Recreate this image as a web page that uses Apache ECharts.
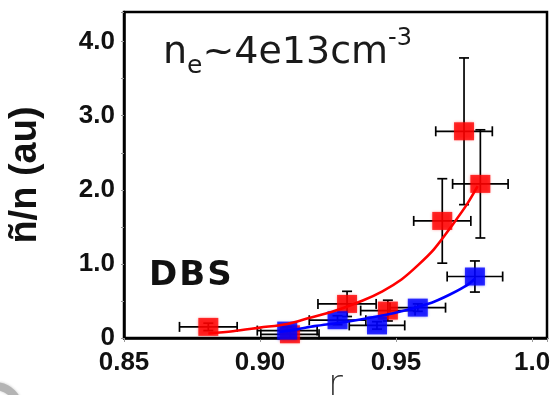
<!DOCTYPE html>
<html>
<head>
<meta charset="utf-8">
<script src="https://cdn.jsdelivr.net/npm/echarts@6/dist/echarts.min.js"></script>
<style>
  html, body { margin: 0; padding: 0; background: #fff; }
  #chart { width: 554px; height: 395px; }
</style>
</head>
<body>
<div id="chart"></div>
<script>
// Normalised density fluctuation vs minor radius (DBS measurements)
const xTicks = [0.85, 0.90, 0.95, 1.0];
const yTicks = [0, 1, 2, 3, 4];

// red data set
const redR    = [0.881, 0.911, 0.932, 0.947, 0.967, 0.975, 0.981];
const redN    = [0.15, 0.05, 0.46, 0.37, 1.58, 2.79, 2.08];
const redRErr = [0.0106, 0.0107, 0.0107, 0.0100, 0.0105, 0.0104, 0.0102];
const redNErr = [0.05, 0.05, 0.17, 0.14, 0.57, 0.99, 0.73];

// blue data set
const blueR    = [0.910, 0.9285, 0.943, 0.958, 0.979];
const blueN    = [0.10, 0.24, 0.17, 0.41, 0.83];
const blueRErr = [0.0110, 0.0104, 0.0102, 0.0102, 0.0102];
const blueNErr = [0.05, 0.06, 0.05, 0.05, 0.21];

// fitted trend curves
const redFitR  = [0.881, 0.890, 0.900, 0.910, 0.918, 0.927, 0.938, 0.945, 0.952, 0.958, 0.964, 0.971, 0.976, 0.980];
const redFitN  = [0.06, 0.09, 0.14, 0.19, 0.27, 0.36, 0.51, 0.63, 0.79, 0.98, 1.20, 1.54, 1.80, 2.05];
const blueFitR = [0.907, 0.914, 0.920, 0.930, 0.940, 0.946, 0.952, 0.958, 0.964, 0.970, 0.976, 0.979];
const blueFitN = [0.08, 0.12, 0.16, 0.21, 0.27, 0.31, 0.36, 0.42, 0.49, 0.59, 0.71, 0.80];

const zip = (a, b) => a.map((v, i) => [v, b[i]]);
const zip4 = (a, b, c, d) => a.map((v, i) => [v, b[i], c[i], d[i]]);

function errorBars(params, api) {
  const x = api.value(0), y = api.value(1), xe = api.value(2), ye = api.value(3);
  const l = api.coord([x - xe, y]);
  const r = api.coord([x + xe, y]);
  const t = api.coord([x, y + ye]);
  const b = api.coord([x, y - ye]);
  const cap = 5;
  const st = { stroke: '#000', lineWidth: 1.7 };
  const seg = (x1, y1, x2, y2) => ({ type: 'line', shape: { x1, y1, x2, y2 }, style: st });
  return {
    type: 'group',
    children: [
      seg(l[0], l[1], r[0], r[1]),
      seg(l[0], l[1] - cap, l[0], l[1] + cap),
      seg(r[0], r[1] - cap, r[0], r[1] + cap),
      seg(t[0], t[1], b[0], b[1]),
      seg(t[0] - cap, t[1], t[0] + cap, t[1]),
      seg(b[0] - cap, b[1], b[0] + cap, b[1])
    ]
  };
}

const onTick = (v, list) => list.some(t => Math.abs(t - v) < 1e-6);

const chart = echarts.init(document.getElementById('chart'), null, { renderer: 'canvas' });
chart.setOption({
  animation: false,
  backgroundColor: '#fff',
  grid: {
    left: 124, right: 7, top: 12, bottom: 57,
    outerBoundsMode: 'none', containLabel: false,
    show: true, borderColor: '#000', borderWidth: 2.5, backgroundColor: 'transparent'
  },
  title: {
    left: 163, top: 27, padding: 0,
    text: '{m|n}{sub|e}{m|~4e13cm}{sup|-3}',
    textStyle: {
      rich: {
        m:   { fontFamily: 'DejaVu Sans', fontWeight: 'normal', fontSize: 38, lineHeight: 52, color: '#1a1a1a', verticalAlign: 'middle' },
        sub: { fontFamily: 'DejaVu Sans', fontWeight: 'normal', fontSize: 25, lineHeight: 16, color: '#1a1a1a', verticalAlign: 'bottom' },
        sup: { fontFamily: 'DejaVu Sans', fontWeight: 'normal', fontSize: 24, lineHeight: 22, color: '#1a1a1a', verticalAlign: 'top' }
      }
    }
  },
  graphic: [
    {
      type: 'text', left: 149, top: 259,
      style: {
        text: '{a|D}{a|B}{b|S}',
        rich: {
          a: { fontFamily: 'DejaVu Sans', fontWeight: 'bold', fontSize: 34, fill: '#111', padding: [0, 2, 0, 0] },
          b: { fontFamily: 'DejaVu Sans', fontWeight: 'bold', fontSize: 34, fill: '#111' }
        }
      }
    },
    {
      type: 'arc', shape: { cx: -5, cy: 410, r: 24, startAngle: 1.55 * Math.PI, endAngle: 1.95 * Math.PI },
      style: { stroke: '#b4b4b4', lineWidth: 8, fill: null, shadowBlur: 3, shadowColor: '#c8c8c8' }
    }
  ],
  xAxis: {
    type: 'value', min: 0.85, max: 1.0055, interval: 0.05,
    name: 'r', nameLocation: 'middle', nameGap: 30, nameMoveOverlap: false,
    nameTextStyle: { fontFamily: 'DejaVu Sans', fontWeight: 200, fontSize: 36, color: '#333' },
    axisLine: { show: true, lineStyle: { color: '#000', width: 2.5 } },
    axisTick: { show: true, inside: false, length: 4, lineStyle: { color: '#999', width: 1 } },
    splitLine: { show: false },
    axisLabel: {
      margin: 12, fontFamily: 'Liberation Sans', fontWeight: 'bold', fontSize: 26, color: '#111',
      showMaxLabel: true,
      formatter: v => onTick(v, xTicks) ? (Math.abs(v - 1) < 1e-6 ? '1.0' : v.toFixed(2)) : ''
    }
  },
  yAxis: {
    type: 'value', min: 0, max: 4.4, interval: 1,
    name: 'ñ/n (au)', nameLocation: 'middle', nameGap: 79, nameRotate: 90, nameMoveOverlap: false,
    nameTextStyle: { fontFamily: 'Liberation Sans', fontWeight: 'bold', fontSize: 38, color: '#111' },
    axisLine: { show: true, lineStyle: { color: '#000', width: 2.5 } },
    axisTick: { show: true, inside: false, length: 3, lineStyle: { color: '#999', width: 1 } },
    minorTick: { show: true, splitNumber: 2, length: 3, lineStyle: { color: '#999', width: 1 } },
    splitLine: { show: false },
    axisLabel: {
      margin: 9, fontFamily: 'Liberation Sans', fontWeight: 'bold', fontSize: 26, color: '#111',
      formatter: v => onTick(v, yTicks) ? (v === 0 ? '0' : v.toFixed(1)) : ''
    }
  },
  series: [
    {
      type: 'custom', name: 'red errors', renderItem: errorBars, clip: false, z: 1,
      encode: { x: 0, y: 1 }, data: zip4(redR, redN, redRErr, redNErr)
    },
    {
      type: 'custom', name: 'blue errors', renderItem: errorBars, clip: false, z: 1,
      encode: { x: 0, y: 1 }, data: zip4(blueR, blueN, blueRErr, blueNErr)
    },
    {
      type: 'scatter', name: 'red', symbol: 'rect', symbolSize: [20, 18], z: 2, clip: false,
      itemStyle: { color: '#ff0000', shadowBlur: 3, shadowColor: 'rgba(255,0,0,0.6)' },
      data: zip(redR, redN)
    },
    {
      type: 'scatter', name: 'blue', symbol: 'rect', symbolSize: [20, 18], z: 2, clip: false,
      itemStyle: { color: '#0000ff', shadowBlur: 3, shadowColor: 'rgba(0,0,255,0.6)' },
      data: zip(blueR, blueN)
    },
    {
      type: 'line', name: 'red fit', smooth: 0.3, showSymbol: false, symbol: 'none', z: 3,
      lineStyle: { color: '#ff0000', width: 2.6 }, data: zip(redFitR, redFitN)
    },
    {
      type: 'line', name: 'blue fit', smooth: 0.3, showSymbol: false, symbol: 'none', z: 3,
      lineStyle: { color: '#0000ff', width: 2.6 }, data: zip(blueFitR, blueFitN)
    }
  ]
});
</script>
</body>
</html>
